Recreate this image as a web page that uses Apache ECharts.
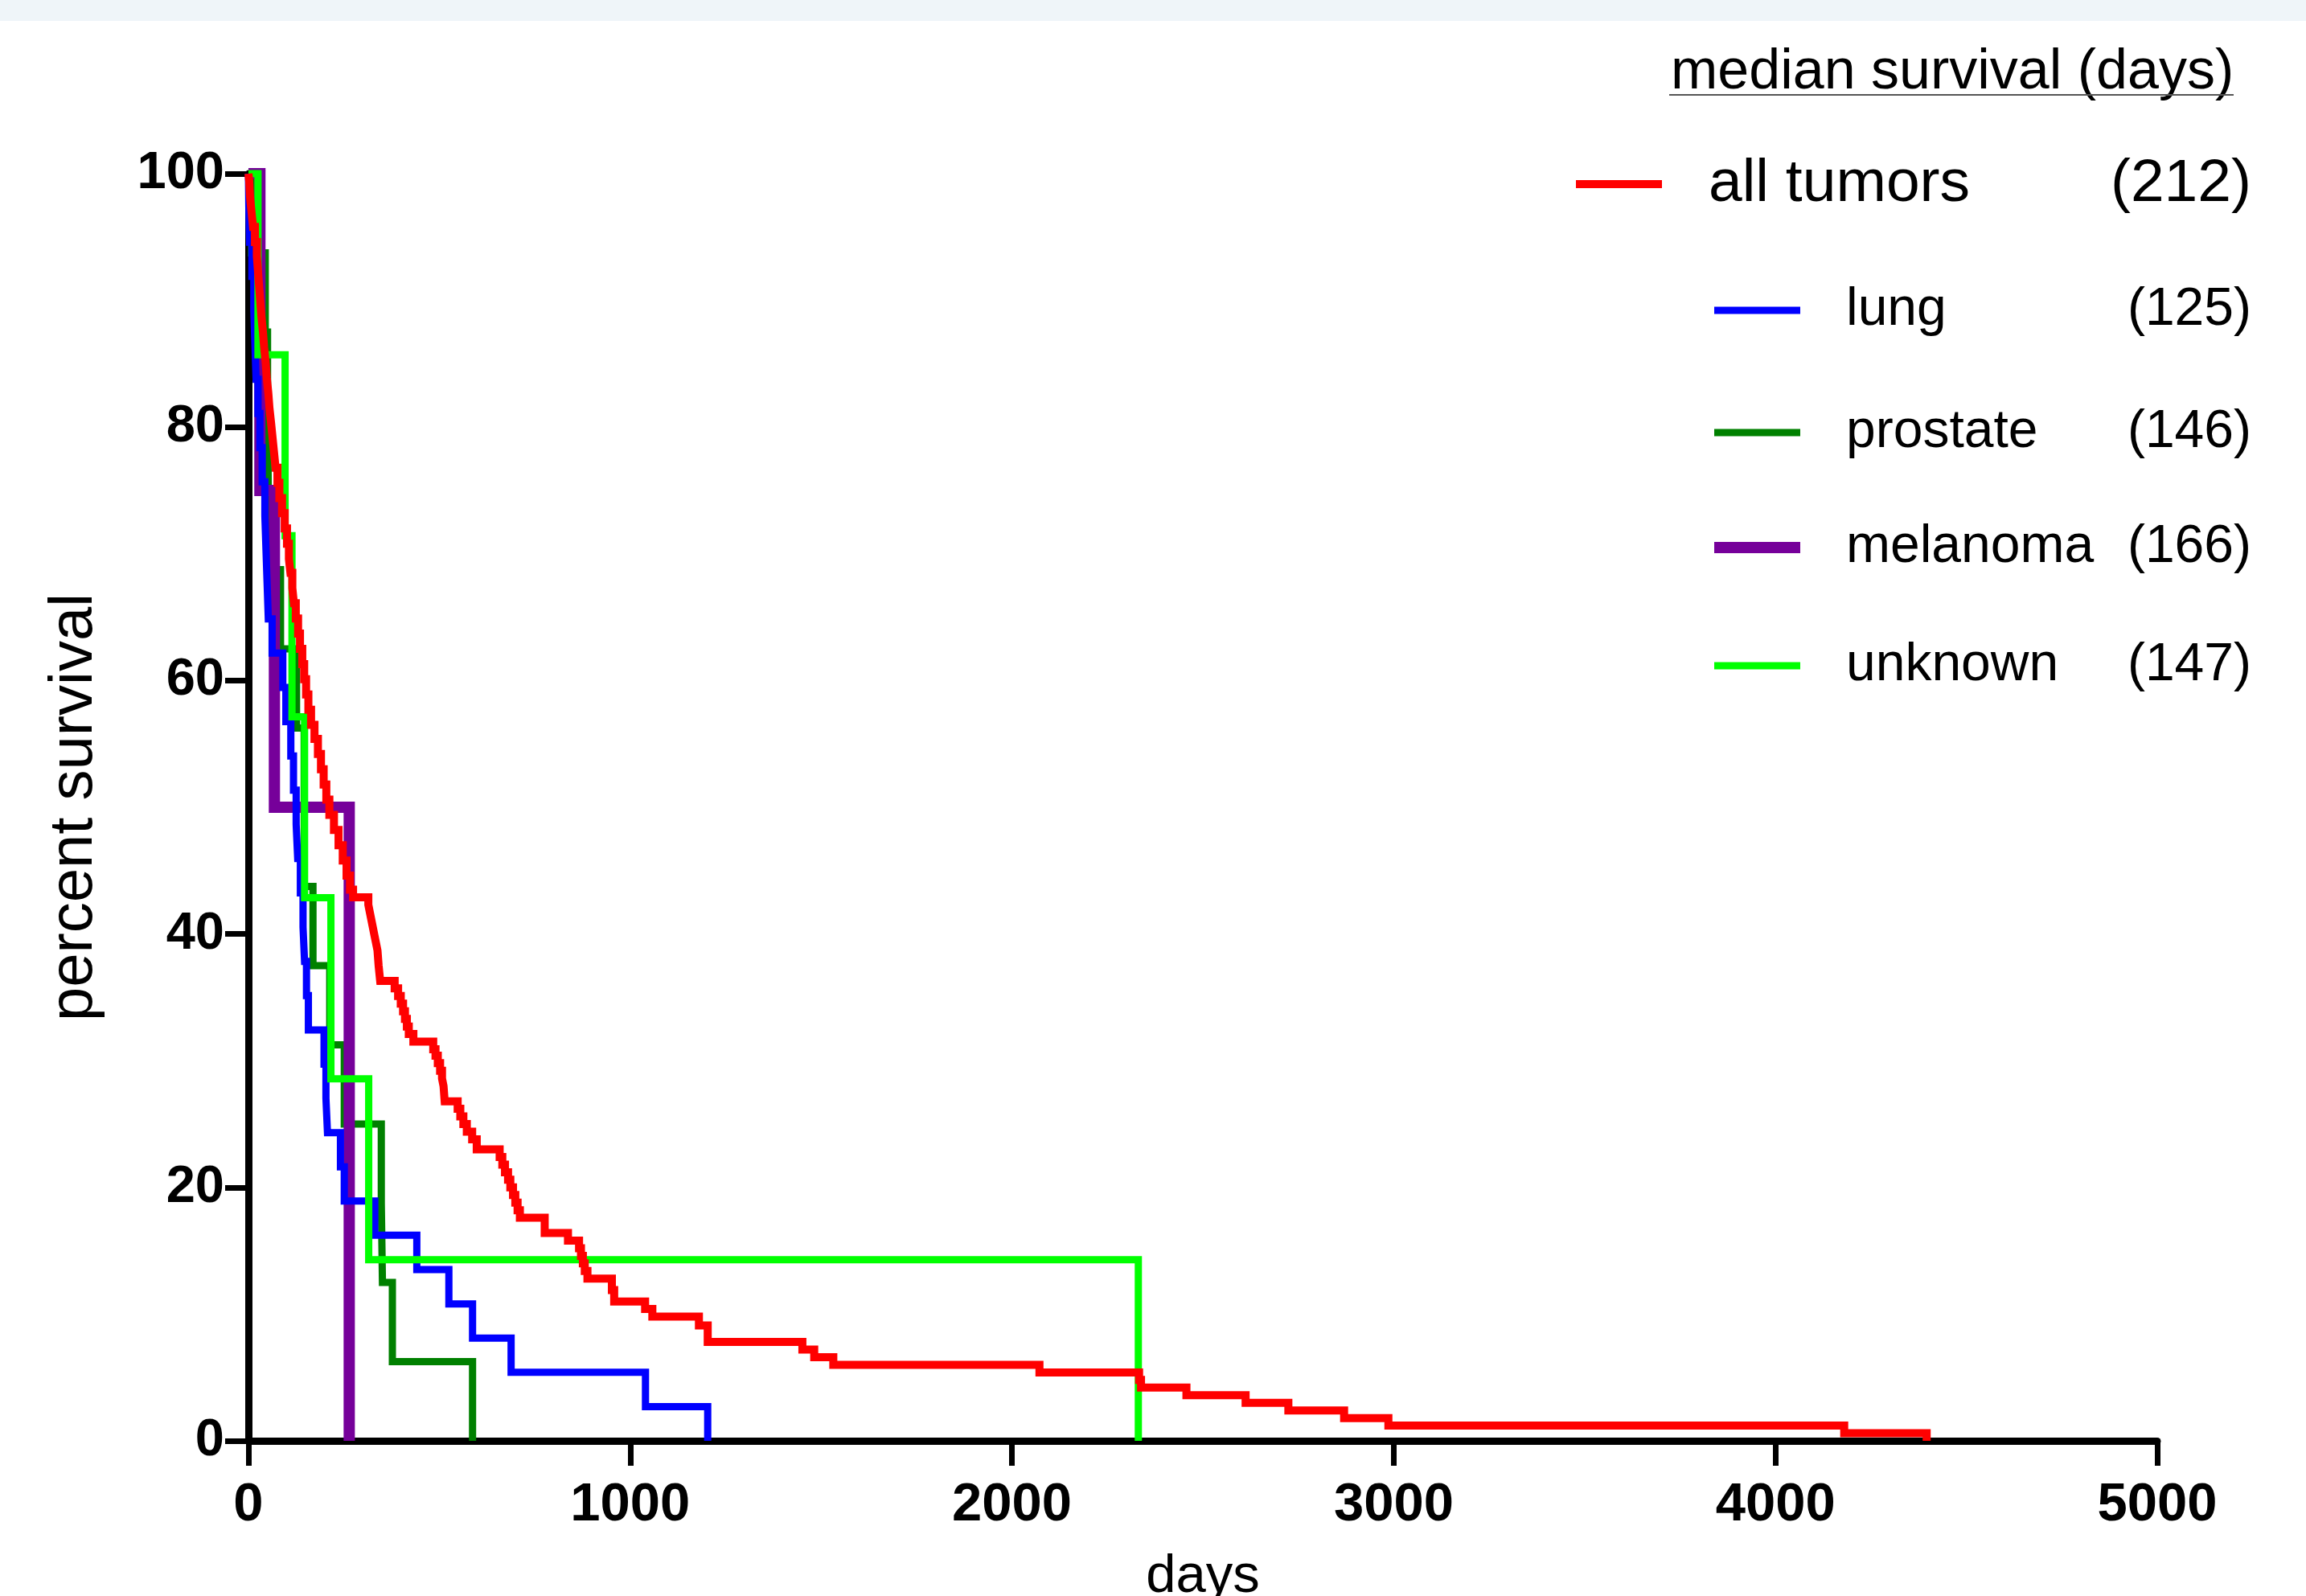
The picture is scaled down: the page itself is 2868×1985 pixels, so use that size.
<!DOCTYPE html>
<html>
<head>
<meta charset="utf-8">
<script src="https://cdn.jsdelivr.net/npm/echarts@6/dist/echarts.min.js"></script>
<style>
html,body{margin:0;padding:0;background:#ffffff;width:2868px;height:1985px;overflow:hidden;}
#chart{position:fixed;left:0;top:0;width:2868px;height:1985px;overflow:hidden;}
</style>
</head>
<body>
<div id="chart"></div>
<script>
// ---------------- data ----------------
const seriesNames = ['all tumors', 'lung', 'prostate', 'melanoma', 'unknown'];
const medianDays = [212, 125, 146, 166, 147];
const headerText = 'median survival (days)';
const xAxisTitle = 'days';
const yAxisTitle = 'percent survival';
const xMin = 0, xMax = 5000, xStep = 1000;
const yMin = 0, yMax = 100, yStep = 20;

// Kaplan-Meier steps: [day, percent surviving after that day]
const allTumors = [[0,100],[2,99.4],[4,98.2],[8,97.0],[12,95.8],[17,94.6],[22,93.5],[25,92.3],[28,91.1],[31,89.9],[34,88.7],[38,87.5],[41,86.3],[45,85.1],[48,83.9],[52,82.7],[55,81.5],[59,80.4],[63,79.2],[67,78.0],[71,76.8],[76,75.6],[81,74.4],[88,73.2],[95,72.0],[101,70.8],[106,69.6],[110,68.5],[115,67.3],[119,66.1],[124,64.9],[130,63.7],[135,62.5],[141,61.3],[146,60.1],[151,58.9],[157,57.7],[164,56.5],[173,55.4],[182,54.2],[190,53.0],[197,51.8],[204,50.6],[212,49.4],[224,48.2],[236,47.0],[247,45.8],[257,44.6],[266,43.5],[274,42.9],[314,42.3],[318,41.7],[322,41.1],[326,40.5],[330,39.9],[334,39.3],[338,38.7],[341,37.5],[345,36.3],[383,35.7],[392,35.1],[399,34.5],[405,33.9],[410,33.3],[415,32.7],[420,32.1],[432,31.5],[484,30.9],[490,30.4],[496,29.8],[502,29.2],[507,28.6],[511,28.0],[514,26.8],[548,26.2],[555,25.6],[563,25.0],[572,24.4],[586,23.8],[598,23.0],[658,22.4],[665,21.8],[672,21.2],[680,20.6],[686,20.0],[693,19.4],[699,18.8],[705,18.2],[711,17.6],[776,16.4],[837,15.8],[866,15.2],[871,14.6],[876,14.0],[881,13.4],[888,12.8],[952,11.9],[958,11.0],[1039,10.4],[1058,9.8],[1180,9.1],[1203,7.8],[1451,7.2],[1482,6.6],[1532,6.0],[2072,5.4],[2333,4.8],[2338,4.2],[2457,3.6],[2612,3.0],[2724,2.4],[2870,1.8],[2986,1.2],[4180,0.6],[4396,0]];
const lung = [[0,100],[1,97.30],[3,94.59],[9,91.89],[14,89.19],[17,86.49],[20,83.78],[25,81.08],[30,78.38],[36,75.68],[43,72.97],[46,70.27],[49,67.57],[52,64.86],[62,62.16],[90,59.46],[98,56.76],[111,54.05],[118,51.35],[125,48.65],[129,45.95],[136,43.24],[143,40.54],[147,37.84],[152,35.14],[157,32.43],[198,29.73],[203,27.03],[207,24.32],[241,21.62],[251,18.92],[331,16.22],[441,13.51],[525,10.81],[587,8.11],[688,5.41],[1040,2.70],[1203,0]];
const prostate = [[0,100],[8,93.75],[44,87.5],[50,81.25],[52,75],[53,68.75],[84,62.5],[126,56.25],[146,43.75],[169,37.5],[213,31.25],[251,25],[348,18.75],[351,12.5],[377,6.25],[587,0]];
const melanoma = [[0,100],[30,75],[68,50],[264,0]];
const unknown = [[0,100],[25,85.71],[96,71.43],[114,57.14],[147,42.86],[216,28.57],[315,14.29],[2331,0]];

// ---------------- styling ----------------
const seriesData = [allTumors, lung, prostate, melanoma, unknown];
const colors = ['#ff0000', '#0000ff', '#008000', '#76009a', '#00ff00'];
const widths = [10, 9, 9, 14, 9];
const zOrder = [6, 4, 2, 3, 5];
const FONT = '"Liberation Sans", Arial, Helvetica, sans-serif';

const series = seriesNames.map((name, i) => ({
  name: name,
  type: 'line',
  step: 'end',
  data: seriesData[i],
  showSymbol: false,
  symbol: 'none',
  clip: false,
  z: zOrder[i],
  lineStyle: { color: colors[i], width: widths[i], join: 'miter', cap: 'butt' },
  itemStyle: { color: colors[i] },
  emphasis: { disabled: true },
  animation: false
}));

// legend drawn as graphic elements
const legendRowsY = [229, 386, 538, 681, 828];
const graphic = [
  { type: 'rect', shape: { x: 0, y: 0, width: 2868, height: 26 }, style: { fill: '#eff5f9' }, silent: true },
  { type: 'text', x: 2078, y: 91, style: { text: headerText, font: '70px ' + FONT, fill: '#000', textAlign: 'left', textVerticalAlign: 'middle' } },
  { type: 'line', shape: { x1: 2076, y1: 118, x2: 2778, y2: 118 }, style: { stroke: '#555', lineWidth: 2 } }
];
seriesNames.forEach((name, i) => {
  const first = i === 0;
  const lx1 = first ? 1960 : 2132;
  const lx2 = first ? 2067 : 2239;
  const tx = first ? 2125 : 2296;
  const fs = first ? 75 : 66;
  const y = legendRowsY[i];
  graphic.push({ type: 'line', shape: { x1: lx1, y1: y, x2: lx2, y2: y }, style: { stroke: colors[i], lineWidth: widths[i] } });
  graphic.push({ type: 'text', x: tx, y: y, style: { text: name, font: fs + 'px ' + FONT, fill: '#000', textAlign: 'left', textVerticalAlign: 'middle' } });
  graphic.push({ type: 'text', x: 2800, y: y, style: { text: '(' + medianDays[i] + ')', font: fs + 'px ' + FONT, fill: '#000', textAlign: 'right', textVerticalAlign: 'middle' } });
});

const chart = echarts.init(document.getElementById('chart'), null, { renderer: 'canvas', width: 2868, height: 1985 });
chart.setOption({
  animation: false,
  backgroundColor: '#ffffff',
  grid: { left: 309, right: 185, top: 216, bottom: 193, containLabel: false, outerBoundsMode: 'none' },
  xAxis: {
    type: 'value', min: xMin, max: xMax, interval: xStep,
    name: xAxisTitle, nameLocation: 'middle', nameGap: 136,
    nameTextStyle: { fontFamily: FONT, fontSize: 67, color: '#000' },
    axisLine: { show: true, onZero: false, lineStyle: { color: '#000', width: 9 } },
    axisTick: { show: true, inside: false, length: 31, lineStyle: { color: '#000', width: 7 } },
    axisLabel: { margin: 47, fontFamily: FONT, fontSize: 67, fontWeight: 'bold', color: '#000', formatter: function (v) { return String(v); } },
    splitLine: { show: false }
  },
  yAxis: {
    type: 'value', min: yMin, max: yMax, interval: yStep,
    name: yAxisTitle, nameLocation: 'middle', nameGap: 178, nameRotate: 90,
    nameTextStyle: { fontFamily: FONT, fontSize: 76, color: '#000' },
    axisLine: { show: true, onZero: false, lineStyle: { color: '#000', width: 9 } },
    axisTick: { show: true, inside: false, length: 29, lineStyle: { color: '#000', width: 7 } },
    axisLabel: { margin: 30, fontFamily: FONT, fontSize: 65, fontWeight: 'bold', color: '#000', formatter: function (v) { return String(v); } },
    splitLine: { show: false }
  },
  legend: { show: false },
  tooltip: { show: false },
  graphic: graphic,
  series: series
});
</script>
</body>
</html>
